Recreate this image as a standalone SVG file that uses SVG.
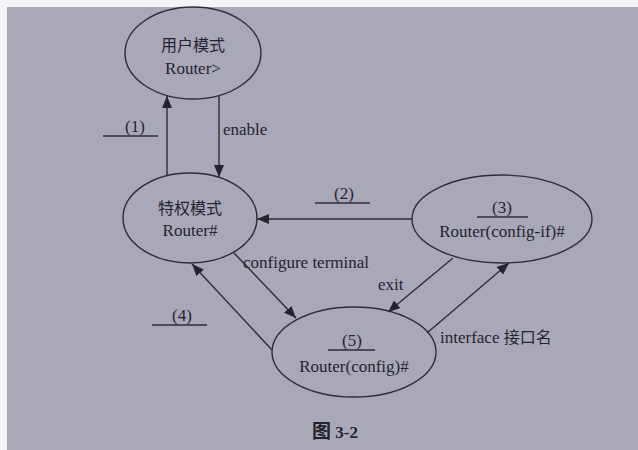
<svg xmlns="http://www.w3.org/2000/svg" width="638" height="450" viewBox="0 0 638 450">
<style>
.bg{fill:#a9a8b7}
.node{fill:none;stroke:#2e2d36;stroke-width:1.4}
.t{font-family:"Liberation Serif","Noto Serif CJK SC","Noto Sans CJK SC",serif;font-size:17px;fill:#25242c;text-anchor:middle}
.l{font-family:"Liberation Serif","Noto Sans CJK SC",serif;font-size:17px;fill:#25242c}
.cjk{font-family:"Noto Sans CJK SC",sans-serif;font-size:16px;fill:#25242c;text-anchor:middle}
.edge{stroke:#2e2d36;stroke-width:1.4;fill:none;marker-end:url(#ah)}
.ul{stroke:#2e2d36;stroke-width:1.4}
</style>
<defs>
<marker id="ah" markerUnits="userSpaceOnUse" markerWidth="12" markerHeight="10" viewBox="0 0 12 10" refX="12" refY="5" orient="auto">
<path d="M0,0 L12,5 L0,10 z" fill="#25242c"/>
</marker>
</defs>
<rect x="0" y="0" width="638" height="450" fill="#f4f4f6"/>
<rect class="bg" x="7" y="7" width="631" height="443"/>

<g id="user-mode">
<ellipse class="node" cx="193" cy="53" rx="68" ry="46"/>
<text class="cjk" x="193" y="51">用户模式</text>
<text class="t" x="193" y="74" font-size="16">Router&gt;</text>
</g>

<g id="privileged-mode">
<ellipse class="node" cx="190" cy="218" rx="67" ry="45"/>
<text class="cjk" x="190" y="214">特权模式</text>
<text class="t" x="190" y="236" font-size="16">Router#</text>
</g>

<g id="config-if">
<ellipse class="node" cx="502" cy="219" rx="90" ry="44"/>
<text class="t" x="502" y="213">(3)</text>
<line class="ul" x1="477" y1="217" x2="528" y2="217"/>
<text class="t" x="502" y="237">Router(config-if)#</text>
</g>

<g id="config">
<ellipse class="node" cx="354" cy="352" rx="82" ry="45"/>
<text class="t" x="352" y="346">(5)</text>
<line class="ul" x1="328" y1="350" x2="375" y2="350"/>
<text class="t" x="354" y="372">Router(config)#</text>
</g>

<g id="connectors">
<line class="edge" x1="167" y1="175" x2="167" y2="96"/>
<line class="edge" x1="219" y1="96" x2="219" y2="177"/>
<line class="edge" x1="412" y1="219" x2="257" y2="219"/>
<line class="edge" x1="234" y1="253" x2="296" y2="318"/>
<line class="edge" x1="272" y1="350" x2="192" y2="264"/>
<line class="edge" x1="453" y1="258" x2="388" y2="312"/>
<line class="edge" x1="427" y1="333" x2="509" y2="263"/>
</g>

<g id="labels">
<text class="t" x="135" y="132">(1)</text>
<line class="ul" x1="103" y1="136" x2="158" y2="136"/>
<text class="l" x="223" y="135">enable</text>
<text class="t" x="344" y="199">(2)</text>
<line class="ul" x1="315" y1="203" x2="370" y2="203"/>
<text class="l" x="243" y="268">configure terminal</text>
<text class="l" x="378" y="290">exit</text>
<text class="t" x="182" y="321">(4)</text>
<line class="ul" x1="152" y1="325" x2="207" y2="325"/>
<text class="l" x="440" y="343">interface <tspan font-family="Noto Sans CJK SC, sans-serif" font-size="16">接口名</tspan></text>
<text class="l" x="312" y="438" font-size="20" font-weight="bold"><tspan font-family="Noto Sans CJK SC, sans-serif" font-size="19">图</tspan> 3-2</text>
</g>
</svg>
